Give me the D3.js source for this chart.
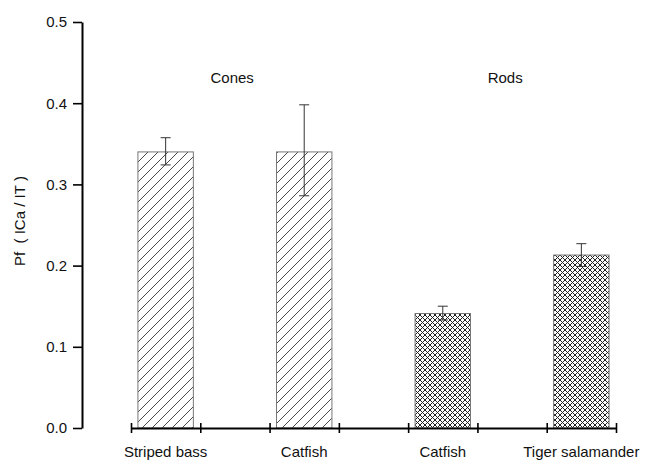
<!DOCTYPE html>
<html>
<head>
<meta charset="utf-8">
<script src="https://cdn.jsdelivr.net/npm/d3@7"></script>
<style>
html,body{margin:0;padding:0;background:#fff;}
text{font-family:"Liberation Sans",Arial,Helvetica,sans-serif;fill:#111;}
</style>
</head>
<body>
<svg id="chart" width="651" height="464"></svg>
<script>
// ---- data ----
const categories = ["Striped bass", "Catfish", "Catfish", "Tiger salamander"];
const groups = ["cones", "cones", "rods", "rods"];
const values = [0.340, 0.340, 0.141, 0.213];
const errUpper = [0.3575, 0.398, 0.150, 0.227];
const errLower = [0.324, 0.286, 0.133, 0.199];
const groupLabels = ["Cones", "Rods"];
const groupLabelPos = [1.46, 5.40];
const yTicks = [0.0, 0.1, 0.2, 0.3, 0.4, 0.5];
const yLabel = "Pf\u00a0\u00a0(\u00a0ICa\u00a0/\u00a0IT\u00a0)";

const svg = d3.select("#chart");

const y = d3.scaleLinear().domain([0, 0.5]).range([428, 22]);
const x = d3.scaleLinear().domain([0, 7]).range([131, 616]);
const barPos = categories.map((c, i) => 0.5 + 2 * i);
const barW = 0.8;

// patterns
const defs = svg.append("defs");
const hatch = defs.append("pattern").attr("id", "hatch")
  .attr("patternUnits", "userSpaceOnUse").attr("width", 10).attr("height", 10);
hatch.append("rect").attr("width", 10).attr("height", 10).attr("fill", "#fff");
hatch.append("path").attr("d", "M-1,11 L11,-1 M-6,6 L6,-6 M4,16 L16,4")
  .attr("stroke", "#333").attr("stroke-width", 0.9);

const cross = defs.append("pattern").attr("id", "cross")
  .attr("patternUnits", "userSpaceOnUse").attr("width", 5).attr("height", 5);
cross.append("rect").attr("width", 5).attr("height", 5).attr("fill", "#fff");
cross.append("path").attr("d", "M-1,6 L6,-1 M-1,-1 L6,6 M-3,3 L3,-3 M2,8 L8,2 M-3,2 L3,8 M2,-3 L8,3")
  .attr("stroke", "#222").attr("stroke-width", 1);

// bars
svg.append("g").selectAll("rect").data(values).join("rect")
  .attr("x", (d, i) => x(barPos[i] - barW / 2))
  .attr("width", (d, i) => x(barPos[i] + barW / 2) - x(barPos[i] - barW / 2))
  .attr("y", d => y(d))
  .attr("height", d => y(0) - y(d))
  .attr("fill", (d, i) => groups[i] === "cones" ? "url(#hatch)" : "url(#cross)")
  .attr("stroke", "#777").attr("stroke-width", 1);

// error bars
const eb = svg.append("g").attr("stroke", "#333").attr("stroke-width", 1);
values.forEach((v, i) => {
  const cx = x(barPos[i]);
  eb.append("line").attr("x1", cx).attr("x2", cx).attr("y1", y(errUpper[i])).attr("y2", y(errLower[i]));
  eb.append("line").attr("x1", cx - 5).attr("x2", cx + 5).attr("y1", y(errUpper[i])).attr("y2", y(errUpper[i]));
  eb.append("line").attr("x1", cx - 5).attr("x2", cx + 5).attr("y1", y(errLower[i])).attr("y2", y(errLower[i]));
});

// y axis
const yAxisG = svg.append("g").attr("transform", "translate(82,0)");
yAxisG.call(d3.axisLeft(y).tickValues(d3.range(0, 0.5001, 0.02)).tickSize(5).tickSizeOuter(0).tickFormat(""));
yAxisG.call(d3.axisLeft(y).tickValues(yTicks).tickSize(9).tickSizeOuter(0).tickFormat(d3.format(".1f")));
yAxisG.selectAll("path.domain").attr("stroke", "#000").attr("stroke-width", 2);
yAxisG.selectAll(".tick line").attr("stroke", "#000").attr("stroke-width", 1.6);
yAxisG.selectAll(".tick text").attr("font-size", 15).attr("x", -15).style("font-family", "Liberation Sans, Arial, sans-serif").attr("fill", "#111");

// x axis
const xAxisG = svg.append("g").attr("transform", `translate(0,${y(0)})`);
xAxisG.call(d3.axisBottom(x).tickValues(d3.range(0, 8)).tickSize(5).tickSizeOuter(0).tickFormat(""));
xAxisG.selectAll("path.domain").attr("stroke", "#000").attr("stroke-width", 2);
xAxisG.selectAll(".tick line").attr("y1", -5).attr("stroke", "#000").attr("stroke-width", 1.6);

// category labels
svg.append("g").selectAll("text").data(categories).join("text")
  .attr("x", (d, i) => x(barPos[i]))
  .attr("y", 457)
  .attr("text-anchor", "middle")
  .attr("font-size", 15)
  .text(d => d);

// group labels
svg.append("g").selectAll("text").data(groupLabels).join("text")
  .attr("x", (d, i) => x(groupLabelPos[i]))
  .attr("y", 83)
  .attr("text-anchor", "middle")
  .attr("font-size", 15)
  .text(d => d);

// y label
svg.append("text")
  .attr("transform", "translate(25,221) rotate(-90)")
  .attr("text-anchor", "middle")
  .attr("font-size", 15)
  .text(yLabel);
</script>
</body>
</html>
